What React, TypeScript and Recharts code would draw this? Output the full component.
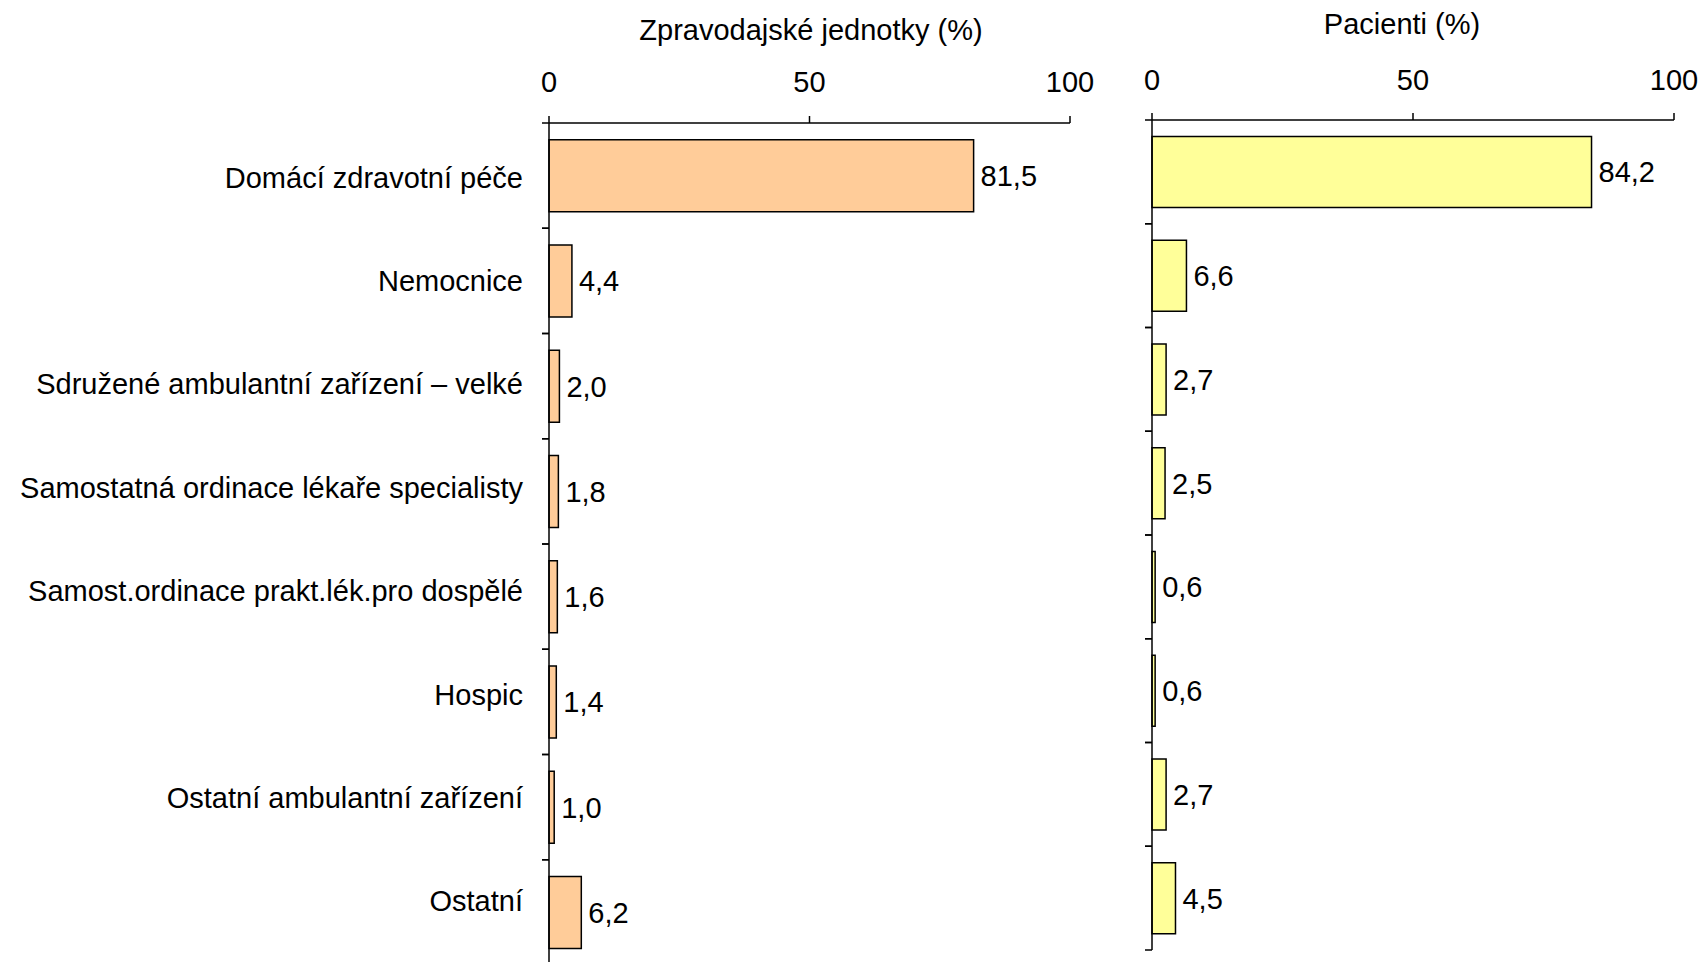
import { BarChart, Bar, XAxis, YAxis, LabelList } from 'recharts'

const categories = [
  'Domácí zdravotní péče',
  'Nemocnice',
  'Sdružené ambulantní zařízení – velké',
  'Samostatná ordinace lékaře specialisty',
  'Samost.ordinace prakt.lék.pro dospělé',
  'Hospic',
  'Ostatní ambulantní zařízení',
  'Ostatní',
]
const unitsShare = [81.5, 4.4, 2.0, 1.8, 1.6, 1.4, 1.0, 6.2]
const patientsShare = [84.2, 6.6, 2.7, 2.5, 0.6, 0.6, 2.7, 4.5]
const percentTicks = [0, 50, 100]

const data = categories.map((name, i) => ({
  name,
  units: unitsShare[i],
  patients: patientsShare[i],
}))

const FONT = '"Liberation Sans", Arial, Helvetica, sans-serif'
const FS = 29
const fmt = (v: number) => v.toFixed(1).replace('.', ',')

// left panel geometry
const L_W = 1100
const L_H = 970
const L_TOP = 123
const L_BOTTOM = 5
const L_AXIS_X = 549
const L_YAXIS_W = 540
const L_HALF = (L_H - L_TOP - L_BOTTOM) / categories.length / 2
// category labels in the original sit on a slightly tighter pitch than the bars
const LABEL_DRIFT = 1.9

// right panel geometry
const R_X = 1100
const R_W = 604
const R_H = 955
const R_TOP = 120
const R_BOTTOM = 5
const R_YAXIS_W = 40
const R_MARGIN_L = 12
const R_HALF = (R_H - R_TOP - R_BOTTOM) / categories.length / 2

function CategoryTick(props: any) {
  const { y, payload, axisX, half, showText } = props
  const idx = payload?.index ?? categories.indexOf(payload?.value)
  return (
    <g>
      <line x1={axisX - 7} x2={axisX} y1={y - half} y2={y - half} stroke="#000" strokeWidth={1.5} />
      <line x1={axisX - 7} x2={axisX} y1={y + half} y2={y + half} stroke="#000" strokeWidth={1.5} />
      {showText && (
        <text
          x={axisX - 26}
          y={y + 2 - idx * LABEL_DRIFT}
          dy="0.35em"
          textAnchor="end"
          fontSize={FS}
          fill="#000"
        >
          {payload.value}
        </text>
      )}
    </g>
  )
}

const tickStyle = { fontSize: FS, fill: '#000' }

export default function App() {
  return (
    <div
      style={{
        position: 'absolute',
        left: 0,
        top: 0,
        width: 1704,
        height: 962,
        background: '#fff',
        fontFamily: FONT,
        overflow: 'hidden',
      }}
    >
      <div style={{ position: 'absolute', left: 811, top: 30, transform: 'translate(-50%, -50%)', fontSize: FS, whiteSpace: 'nowrap' }}>
        Zpravodajské jednotky (%)
      </div>
      <div style={{ position: 'absolute', left: 1402, top: 24, transform: 'translate(-50%, -50%)', fontSize: FS, whiteSpace: 'nowrap' }}>
        Pacienti (%)
      </div>

      <div style={{ position: 'absolute', left: 0, top: 0 }}>
        <BarChart
          width={L_W}
          height={L_H}
          data={data}
          layout="vertical"
          barCategoryGap="16%"
          margin={{ top: 0, right: L_W - 1070, bottom: L_BOTTOM, left: L_AXIS_X - L_YAXIS_W }}
        >
          <XAxis
            type="number"
            orientation="top"
            domain={[0, 100]}
            ticks={percentTicks}
            height={L_TOP}
            tickSize={7}
            tickMargin={24}
            tick={tickStyle}
            axisLine={{ stroke: '#000', strokeWidth: 1.5 }}
            tickLine={{ stroke: '#000', strokeWidth: 1.5 }}
          />
          <YAxis
            type="category"
            dataKey="name"
            width={L_YAXIS_W}
            interval={0}
            tickLine={false}
            axisLine={{ stroke: '#000', strokeWidth: 1.5 }}
            tick={<CategoryTick axisX={L_AXIS_X} half={L_HALF} showText />}
          />
          <Bar dataKey="units" fill="#FFCC99" stroke="#000" strokeWidth={1.5} isAnimationActive={false}>
            <LabelList dataKey="units" position="right" offset={7} formatter={fmt} style={{ fontSize: FS, fill: '#000' }} />
          </Bar>
        </BarChart>
      </div>

      <div style={{ position: 'absolute', left: R_X, top: 0 }}>
        <BarChart
          width={R_W}
          height={R_H}
          data={data}
          layout="vertical"
          barCategoryGap="16%"
          margin={{ top: 0, right: R_X + R_W - 1674, bottom: R_BOTTOM, left: R_MARGIN_L }}
        >
          <XAxis
            type="number"
            orientation="top"
            domain={[0, 100]}
            ticks={percentTicks}
            height={R_TOP}
            tickSize={7}
            tickMargin={23}
            tick={tickStyle}
            axisLine={{ stroke: '#000', strokeWidth: 1.5 }}
            tickLine={{ stroke: '#000', strokeWidth: 1.5 }}
          />
          <YAxis
            type="category"
            dataKey="name"
            width={R_YAXIS_W}
            interval={0}
            tickLine={false}
            axisLine={{ stroke: '#000', strokeWidth: 1.5 }}
            tick={<CategoryTick axisX={R_MARGIN_L + R_YAXIS_W} half={R_HALF} showText={false} />}
          />
          <Bar dataKey="patients" fill="#FFFF99" stroke="#000" strokeWidth={1.5} isAnimationActive={false}>
            <LabelList dataKey="patients" position="right" offset={7} formatter={fmt} style={{ fontSize: FS, fill: '#000' }} />
          </Bar>
        </BarChart>
      </div>
    </div>
  )
}
